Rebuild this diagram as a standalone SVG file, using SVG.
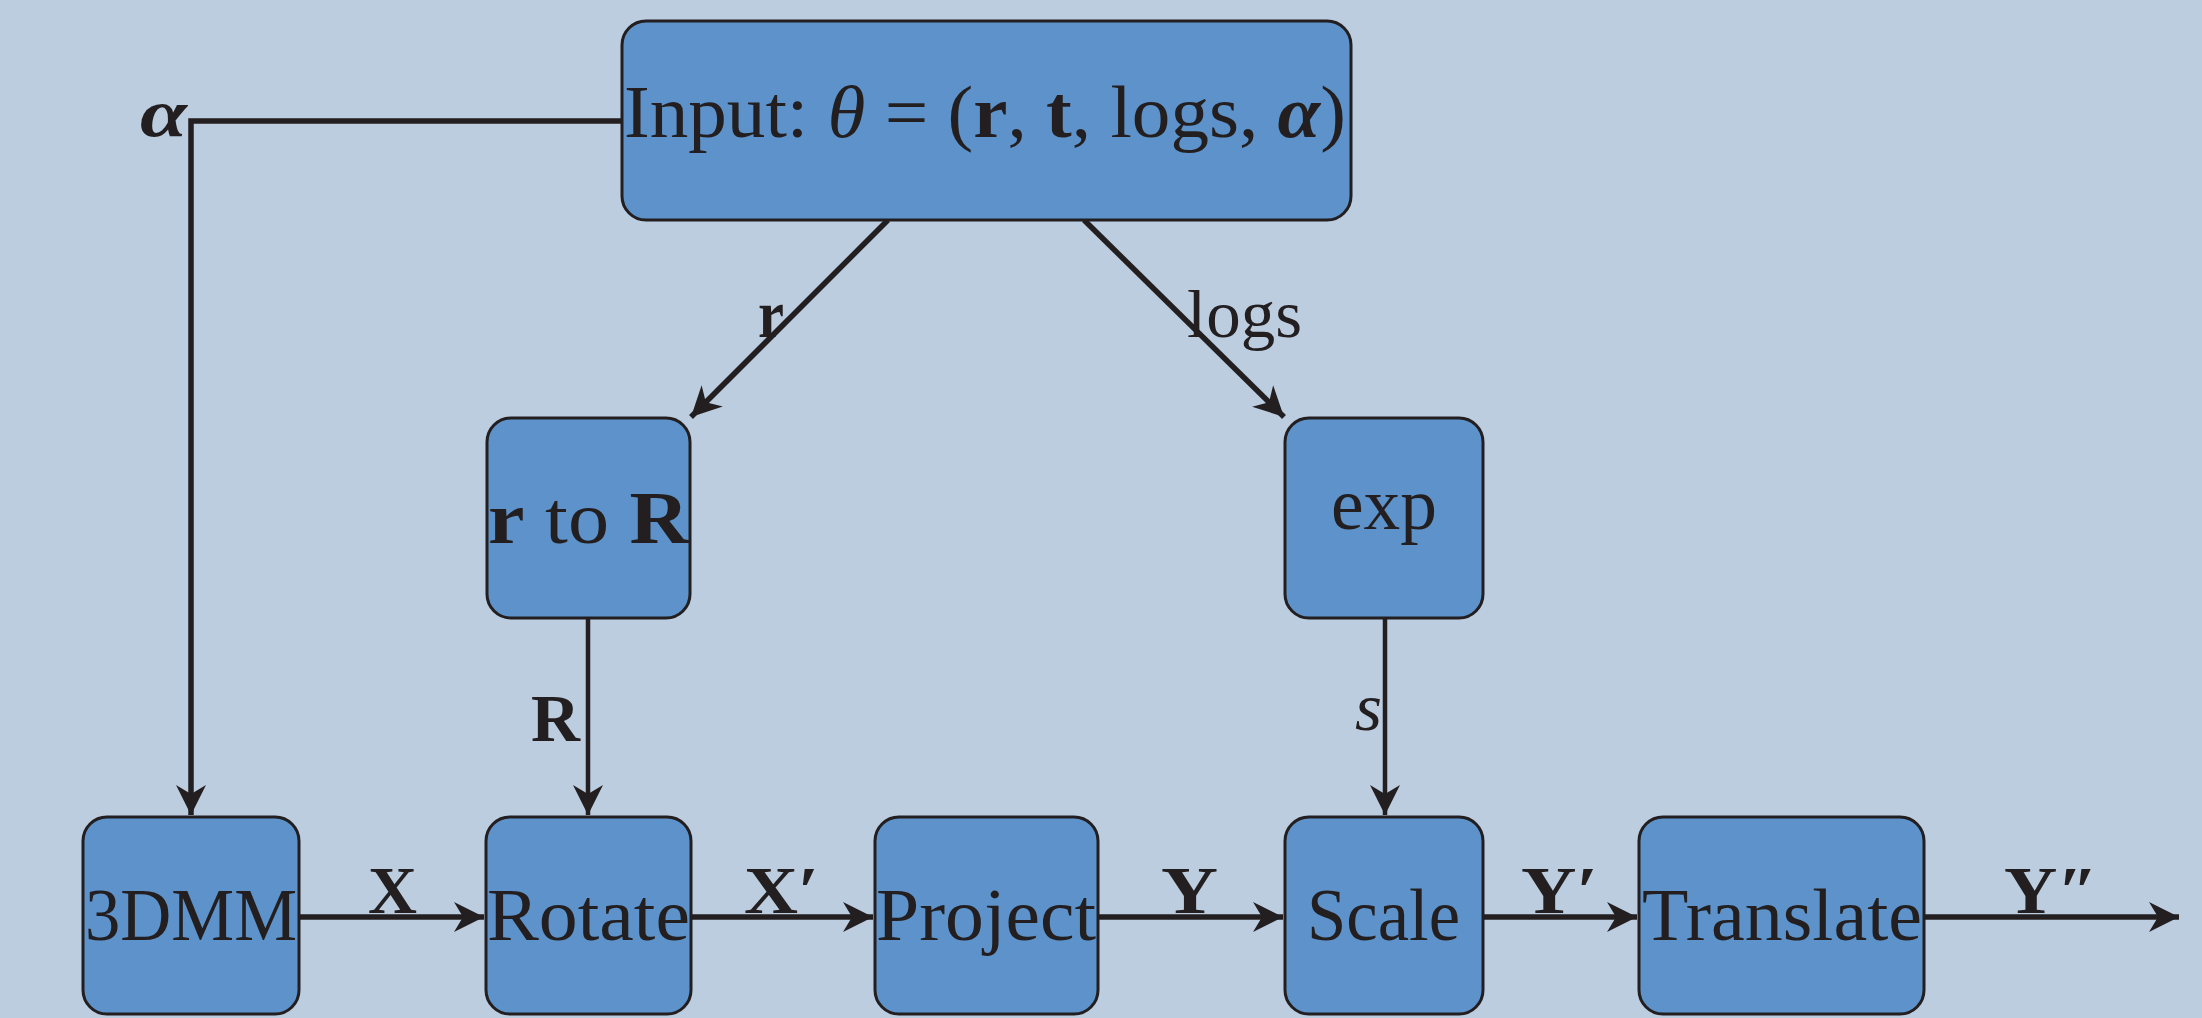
<svg xmlns="http://www.w3.org/2000/svg" width="2202" height="1018" viewBox="0 0 2202 1018">
<defs>
<style>
.bg{fill:#bccde0}
.box{fill:#5d93ca;stroke:#231f20;stroke-width:3}
.t{font-family:"Liberation Serif","Times New Roman",serif;font-size:74px;fill:#231f20}
.lbl{font-family:"Liberation Serif","Times New Roman",serif;font-size:68px;fill:#231f20}
.b{font-weight:bold}
.i{font-style:italic}
.bi{font-weight:bold;font-style:italic}
.edge{fill:none;stroke:#231f20;stroke-width:5.5}
.thin{fill:none;stroke:#231f20;stroke-width:4.5}
</style>
<marker id="ah" markerUnits="userSpaceOnUse" markerWidth="34" markerHeight="34" refX="32" refY="17" orient="auto">
<path d="M2,2 L32,17 L2,32 L11,17 z" fill="#231f20"/>
</marker>
</defs>
<rect class="bg" x="0" y="0" width="2202" height="1018"/>

<g id="connectors">
<polyline class="edge" points="622,121 191,121 191,815" marker-end="url(#ah)"/>
<line class="edge" x1="888" y1="220" x2="691" y2="417" marker-end="url(#ah)"/>
<line class="edge" x1="1084" y1="220" x2="1284" y2="417" marker-end="url(#ah)"/>
<line class="thin" x1="588" y1="618" x2="588" y2="815" marker-end="url(#ah)"/>
<line class="thin" x1="1385" y1="618" x2="1385" y2="815" marker-end="url(#ah)"/>
<line class="edge" x1="299" y1="917" x2="484" y2="917" marker-end="url(#ah)"/>
<line class="edge" x1="691" y1="917" x2="873" y2="917" marker-end="url(#ah)"/>
<line class="edge" x1="1098" y1="917" x2="1283" y2="917" marker-end="url(#ah)"/>
<line class="edge" x1="1483" y1="917" x2="1637" y2="917" marker-end="url(#ah)"/>
<line class="edge" x1="1924" y1="917" x2="2179" y2="917" marker-end="url(#ah)"/>
<text class="lbl bi" x="140" y="136" textLength="47" lengthAdjust="spacingAndGlyphs">α</text>
<text class="lbl b" x="758" y="337" textLength="26" lengthAdjust="spacingAndGlyphs">r</text>
<text class="lbl" x="1187" y="337" textLength="115" lengthAdjust="spacingAndGlyphs">logs</text>
<text class="lbl b" x="531" y="741" textLength="49" lengthAdjust="spacingAndGlyphs">R</text>
<text class="lbl i" x="1355" y="730" textLength="27" lengthAdjust="spacingAndGlyphs">s</text>
<text class="lbl b" x="368" y="913" textLength="49" lengthAdjust="spacingAndGlyphs">X</text>
<text class="lbl b" x="744" y="913" textLength="75" lengthAdjust="spacingAndGlyphs">X′</text>
<text class="lbl b" x="1161" y="913" textLength="57" lengthAdjust="spacingAndGlyphs">Y</text>
<text class="lbl b" x="1521" y="913" textLength="77" lengthAdjust="spacingAndGlyphs">Y′</text>
<text class="lbl b" x="2004" y="913" textLength="94" lengthAdjust="spacingAndGlyphs">Y″</text>
</g>

<g id="input">
<rect class="box" x="622" y="21" width="729" height="199" rx="24"/>
<text class="t" x="624" y="137" textLength="722" lengthAdjust="spacingAndGlyphs">Input:  <tspan class="i">θ</tspan> = (<tspan class="b">r</tspan>, <tspan class="b">t</tspan>, logs, <tspan class="bi">α</tspan>)</text>
</g>
<g id="rtoR">
<rect class="box" x="487" y="418" width="203" height="200" rx="24"/>
<text class="t" x="488" y="543" textLength="201" lengthAdjust="spacingAndGlyphs"><tspan class="b">r</tspan> to <tspan class="b">R</tspan></text>
</g>
<g id="exp">
<rect class="box" x="1285" y="418" width="198" height="200" rx="24"/>
<text class="t" x="1331" y="529" textLength="106" lengthAdjust="spacingAndGlyphs">exp</text>
</g>
<g id="dmm">
<rect class="box" x="83" y="817" width="216" height="197" rx="24"/>
<text class="t" x="85" y="940" textLength="212" lengthAdjust="spacingAndGlyphs">3DMM</text>
</g>
<g id="rotate">
<rect class="box" x="486" y="817" width="205" height="197" rx="24"/>
<text class="t" x="487" y="940" textLength="203" lengthAdjust="spacingAndGlyphs">Rotate</text>
</g>
<g id="project">
<rect class="box" x="875" y="817" width="223" height="197" rx="24"/>
<text class="t" x="876" y="940" textLength="220" lengthAdjust="spacingAndGlyphs">Project</text>
</g>
<g id="scale">
<rect class="box" x="1285" y="817" width="198" height="197" rx="24"/>
<text class="t" x="1307" y="940" textLength="153" lengthAdjust="spacingAndGlyphs">Scale</text>
</g>
<g id="translate">
<rect class="box" x="1639" y="817" width="285" height="197" rx="24"/>
<text class="t" x="1642" y="940" textLength="280" lengthAdjust="spacingAndGlyphs">Translate</text>
</g>
</svg>
